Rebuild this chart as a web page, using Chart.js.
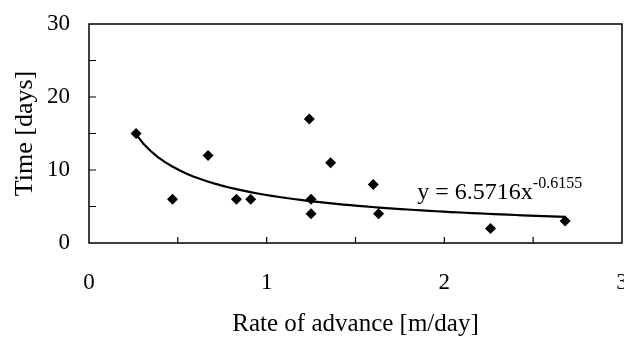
<!DOCTYPE html>
<html>
<head>
<meta charset="utf-8">
<script src="https://cdn.jsdelivr.net/npm/chart.js@4"></script>
<style>
  html, body { margin: 0; padding: 0; background: #fff; overflow: hidden; width: 624px; height: 337px; }
</style>
</head>
<body>
<canvas id="advance-chart" width="640" height="337"></canvas>
<script>
// measured points: rate of advance [m/day] vs time [days]
let rateValues = [0.265, 0.47, 0.67, 0.83, 0.91, 1.24, 1.25, 1.25, 1.36, 1.60, 1.63, 2.26, 2.68];
let timeValues = [15, 6, 12, 6, 6, 17, 6, 4, 11, 8, 4, 2, 3];
let xTicks = [0, 1, 2, 3];
let yTicks = [0, 10, 20, 30];
// power trend shown on the chart: y = 6.5716x^-0.6155
let trendCoef = 6.5716, trendExp = -0.6155;
let trendRange = [0.265, 2.68];

let scatterPoints = [];
for (let i in rateValues) {
    scatterPoints.push({x: rateValues[i], y: timeValues[i]});
}
let trendPoints = [];
let steps = 60;
for (let i = 0; i <= steps; i++) {
    let x = trendRange[0] + (trendRange[1] - trendRange[0]) * i / steps;
    trendPoints.push({x: x, y: trendCoef * Math.pow(x, trendExp)});
}

const serif = "'Liberation Serif', 'DejaVu Serif', serif";

// plot box, inward ticks and the trend equation
const framePlugin = {
    id: 'frame',
    afterDraw(chart) {
        const ctx = chart.ctx, a = chart.chartArea;
        const xs = chart.scales.x, ys = chart.scales.y;
        ctx.save();
        ctx.strokeStyle = '#000';
        ctx.lineWidth = 1.5;
        ctx.strokeRect(a.left, a.top, a.right - a.left, a.bottom - a.top);
        ctx.lineWidth = 1.2;
        ctx.beginPath();
        for (let v = 0.5; v < 3; v += 0.5) {
            let px = xs.getPixelForValue(v);
            ctx.moveTo(px, a.bottom);
            ctx.lineTo(px, a.bottom - 6);
        }
        for (let v = 5; v < 30; v += 5) {
            let py = ys.getPixelForValue(v);
            ctx.moveTo(a.left, py);
            ctx.lineTo(a.left + 7, py);
        }
        ctx.stroke();

        ctx.fillStyle = '#000';
        ctx.textBaseline = 'alphabetic';
        ctx.font = "24px " + serif;
        let ex = xs.getPixelForValue(1.848), ey = ys.getPixelForValue(6.0);
        let main = 'y = 6.5716x';
        ctx.fillText(main, ex, ey);
        let w = ctx.measureText(main).width;
        ctx.font = "16px " + serif;
        ctx.fillText('-0.6155', ex + w, ey - 11);
        ctx.restore();
    }
};

const advanceConfig = {
    type: 'scatter',
    data: {
        datasets: [
            {
                label: 'measured',
                data: scatterPoints,
                pointStyle: 'rectRot',
                pointRadius: 5.5,
                backgroundColor: '#000',
                borderColor: '#000',
                borderWidth: 0,
            },
            {
                label: 'power trend',
                data: trendPoints,
                showLine: true,
                pointRadius: 0,
                borderColor: '#000',
                borderWidth: 2.2,
                tension: 0,
            },
        ]
    },
    options: {
        responsive: false,
        animation: false,
        events: [],
        layout: {padding: {left: 0, right: 18, top: 24, bottom: 0}},
        plugins: {
            legend: {display: false},
            tooltip: {enabled: false},
        },
        scales: {
            x: {
                type: 'linear',
                min: 0, max: 3,
                afterBuildTicks(s) { s.ticks = xTicks.map(v => ({value: v})); },
                afterFit(s) { s.height = 94; s.paddingLeft = 0; s.paddingRight = 0; },
                grid: {display: false},
                border: {display: false},
                ticks: {
                    color: '#000',
                    padding: 18,
                    maxRotation: 0,
                    autoSkip: false,
                    font: {family: serif, size: 23},
                },
                title: {
                    display: true,
                    text: 'Rate of advance [m/day]',
                    color: '#000',
                    padding: 0,
                    font: {family: serif, size: 25, lineHeight: 1},
                },
            },
            y: {
                type: 'linear',
                min: 0, max: 30,
                afterBuildTicks(s) { s.ticks = yTicks.map(v => ({value: v})); },
                afterFit(s) { s.width = 89; s.paddingTop = 0; s.paddingBottom = 0; },
                grid: {display: false},
                border: {display: false},
                ticks: {
                    color: '#000',
                    padding: 11,
                    font: {family: serif, size: 23},
                },
                title: {
                    display: true,
                    text: 'Time [days]',
                    color: '#000',
                    padding: {top: 12, bottom: 0},
                    font: {family: serif, size: 26, lineHeight: 1},
                },
            },
        },
    },
    plugins: [framePlugin],
};
const advanceChart = new Chart(
    document.getElementById('advance-chart'),
    advanceConfig
);
</script>
</body>
</html>
